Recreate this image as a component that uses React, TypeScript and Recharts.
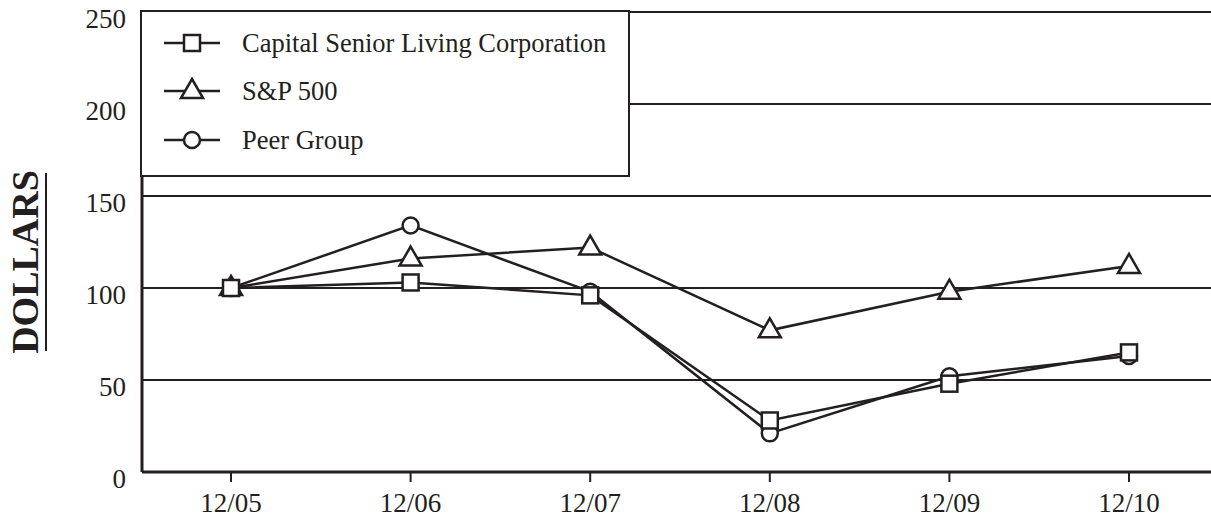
import React from 'react';
import { LineChart, Line, XAxis, YAxis, CartesianGrid, Legend } from 'recharts';

const years = ['12/05', '12/06', '12/07', '12/08', '12/09', '12/10'];
const capitalSenior = [100, 103, 96, 28, 48, 65];
const sp500 = [100, 116, 122, 77, 98, 112];
const peerGroup = [100, 134, 98, 21, 52, 63];
const yTicks = [0, 50, 100, 150, 200, 250];

const INK = '#231f20';
const FONT = '"Liberation Serif", "Times New Roman", serif';

const chartData = years.map((year, i) => ({
  year,
  capital: capitalSenior[i],
  sp: sp500[i],
  peer: peerGroup[i],
}));

type Shape = 'square' | 'triangle' | 'circle';

function Marker({ cx, cy, shape }: { cx: number; cy: number; shape: Shape }) {
  if (cx == null || cy == null) return null;
  if (shape === 'square') {
    return <rect x={cx - 8} y={cy - 8} width={16} height={16} fill="#fff" stroke={INK} strokeWidth={2.5} />;
  }
  if (shape === 'triangle') {
    return (
      <polygon
        points={`${cx},${cy - 12} ${cx + 11},${cy + 7} ${cx - 11},${cy + 7}`}
        fill="#fff"
        stroke={INK}
        strokeWidth={2.5}
        strokeLinejoin="miter"
      />
    );
  }
  return <circle cx={cx} cy={cy} r={8} fill="#fff" stroke={INK} strokeWidth={2.5} />;
}

const series: { key: string; name: string; shape: Shape }[] = [
  { key: 'sp', name: 'S&P 500', shape: 'triangle' },
  { key: 'peer', name: 'Peer Group', shape: 'circle' },
  { key: 'capital', name: 'Capital Senior Living Corporation', shape: 'square' },
];

const legendOrder = ['capital', 'sp', 'peer'];

function LegendBox() {
  return (
    <div
      style={{
        width: 486,
        height: 163,
        border: `2.5px solid ${INK}`,
        background: '#fff',
        position: 'relative',
      }}
    >
      {legendOrder.map((k, i) => {
        const s = series.find((x) => x.key === k)!;
        return (
          <div
            key={k}
            style={{ position: 'absolute', left: 22, top: 18.5 + i * 48.5, height: 24, display: 'flex', alignItems: 'center' }}
          >
            <svg width={58} height={24} style={{ overflow: 'visible' }}>
              <line x1={0} y1={12} x2={56} y2={12} stroke={INK} strokeWidth={2.5} />
              <Marker cx={28} cy={12} shape={s.shape} />
            </svg>
            <span
              style={{
                marginLeft: 20,
                whiteSpace: 'nowrap',
                lineHeight: '24px',
                fontFamily: FONT,
                fontSize: 26.5,
                color: INK,
              }}
            >
              {s.name}
            </span>
          </div>
        );
      })}
    </div>
  );
}

function YTick(props: any) {
  const { y, payload } = props;
  return (
    <text x={126} y={y + 6} dy="0.355em" textAnchor="end" fontFamily={FONT} fontSize={27} fill={INK}>
      {payload.value}
    </text>
  );
}

function XTick(props: any) {
  const { x, y, payload } = props;
  return (
    <text x={x} y={y} dy={30} textAnchor="middle" fontFamily={FONT} fontSize={27} fill={INK}>
      {payload.value}
    </text>
  );
}

function DollarsLabel() {
  return (
    <g>
      <text
        transform="translate(38,262) rotate(-90)"
        textAnchor="middle"
        fontFamily={FONT}
        fontSize={38}
        fontWeight="bold"
        fill={INK}
      >
        DOLLARS
      </text>
      <line x1={46} y1={173} x2={46} y2={351} stroke={INK} strokeWidth={2} />
    </g>
  );
}

export default function App() {
  return (
    <div style={{ position: 'absolute', left: 0, top: 0, width: 1211, height: 519, background: '#fff' }}>
      <LineChart width={1211} height={519} data={chartData} margin={{ top: 12, right: 0, bottom: 0, left: 0 }}>
        <CartesianGrid vertical={false} stroke={INK} strokeWidth={2} horizontalValues={yTicks} />
        <XAxis
          dataKey="year"
          height={47}
          padding={{ left: 89, right: 82 }}
          axisLine={{ stroke: INK, strokeWidth: 3 }}
          tickLine={{ stroke: INK, strokeWidth: 2 }}
          tickSize={10}
          tickMargin={0}
          tick={<XTick />}
          interval={0}
        />
        <YAxis
          width={142}
          domain={[0, 250]}
          ticks={yTicks}
          axisLine={{ stroke: INK, strokeWidth: 3 }}
          tickLine={false}
          tickSize={0}
          tick={<YTick />}
          label={<DollarsLabel />}
        />
        <Legend
          layout="vertical"
          align="center"
          verticalAlign="middle"
          content={<LegendBox />}
          wrapperStyle={{ left: 140, top: 10, width: 491, height: 168 }}
        />
        {series.map((s) => (
          <Line
            key={s.key}
            dataKey={s.key}
            name={s.name}
            stroke={INK}
            strokeWidth={2.5}
            isAnimationActive={false}
            dot={(p: any) => <Marker key={`${s.key}-${p.index}`} cx={p.cx} cy={p.cy} shape={s.shape} />}
            activeDot={false}
          />
        ))}
      </LineChart>
    </div>
  );
}
